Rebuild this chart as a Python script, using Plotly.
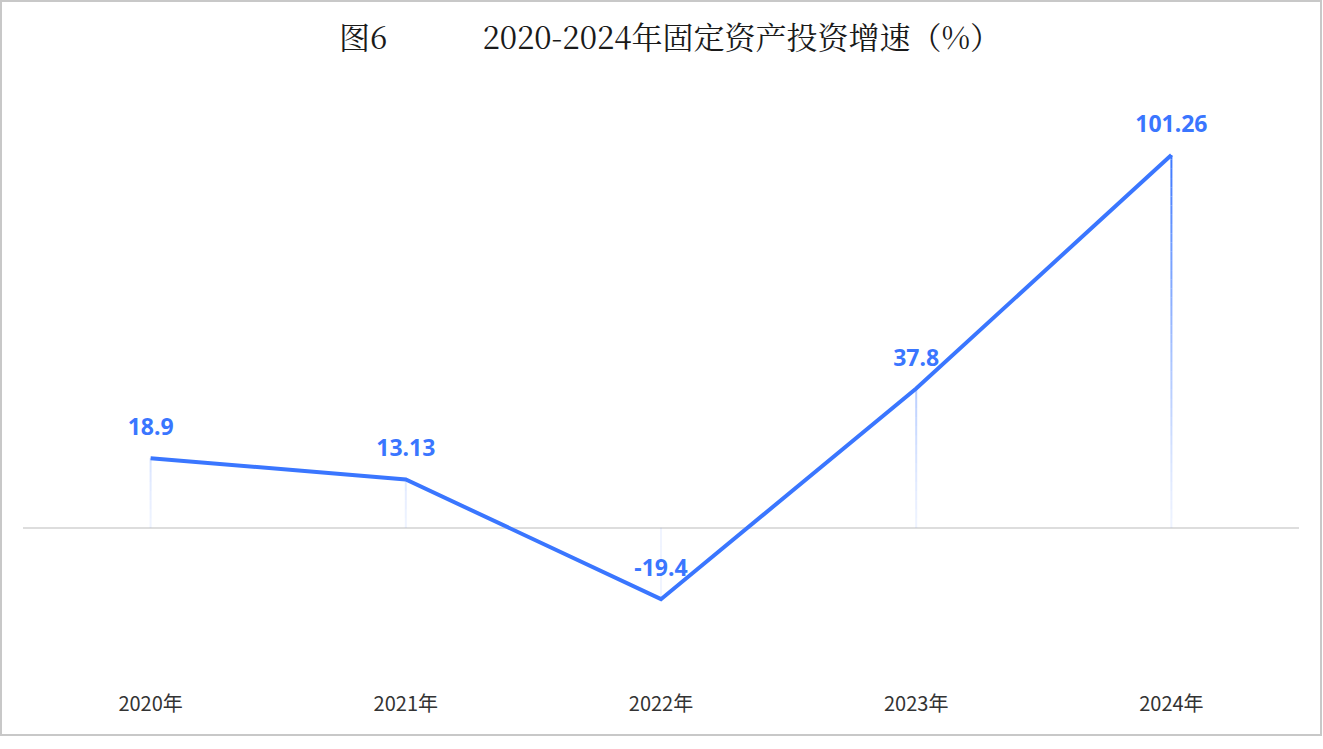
import plotly.graph_objects as go

years = ["2020年", "2021年", "2022年", "2023年", "2024年"]
growth = [18.9, 13.13, -19.4, 37.8, 101.26]
title_text = "图6" + "&nbsp;" * 12 + "2020-2024年固定资产投资增速（%）"

W, H = 1323, 749
ML, MR, MT, MB = 23, 24, 86, 74
PW, PH = W - ML - MR, H - MT - MB
BLUE = "#3a76ff"

fig = go.Figure()

# gradient drop lines (alpha by absolute y)
vmax = max(growth)
step = 2.5
bands = []
lo = -20.0
while lo < 105:
    bands.append((lo, lo + step))
    lo += step
for (a, b) in bands:
    xs, ys = [], []
    for cat, v in zip(years, growth):
        top, bot = (v, 0) if v >= 0 else (0, v)
        s0, s1 = max(a, bot), min(b, top)
        if s1 > s0:
            xs += [cat, cat, None]
            ys += [s0, s1, None]
    if not xs:
        continue
    mid = max((a + b) / 2, 0)
    alpha = 0.08 + 0.92 * (mid / vmax) ** 1.2
    alpha = min(alpha, 1.0)
    fig.add_trace(go.Scatter(x=xs, y=ys, mode="lines", hoverinfo="skip",
                             line=dict(color=f"rgba(58,118,255,{alpha:.3f})", width=2),
                             showlegend=False))

fig.add_trace(go.Scatter(
    x=years, y=growth, mode="lines",
    line=dict(color=BLUE, width=4),
    showlegend=False))

fig.add_trace(go.Scatter(
    x=years, y=growth, mode="markers+text",
    marker=dict(size=26, color="rgba(0,0,0,0)"),
    text=[f"{v:g}" for v in growth], textposition="top center",
    textfont=dict(family="Noto Sans, Open Sans, sans-serif", size=23, color=BLUE, weight="bold"),
    hoverinfo="skip", showlegend=False, cliponaxis=False))

# frame border
fig.add_shape(type="rect", xref="paper", yref="paper",
              x0=(1 - ML) / PW, x1=(1321 - ML) / PW,
              y0=(H - MB - 735) / PH, y1=(H - MB - 1) / PH,
              line=dict(color="#c8c8c8", width=2), layer="below")

fig.update_layout(
    width=W, height=H,
    margin=dict(l=ML, r=MR, t=MT, b=MB),
    paper_bgcolor="white", plot_bgcolor="white",
    title=dict(text=title_text, x=(670 - ML) / PW, xref="paper", xanchor="center", y=1 - 38 / H, yanchor="middle",
               font=dict(family="Noto Serif CJK SC, Noto Sans CJK SC, serif", size=31, color="#1a1a1a")),
    xaxis=dict(type="category", categoryorder="array", categoryarray=years,
               range=[-0.5, 4.5], showgrid=False, showline=False,
               zeroline=False, ticks="", tickfont=dict(family="Noto Sans CJK SC, Noto Sans, sans-serif", size=20, color="#333333"),
               ticklabelstandoff=15),
    yaxis=dict(range=[-40, 120], showgrid=False, showticklabels=False, zeroline=True,
               zerolinecolor="#dddddd", zerolinewidth=2, showline=False),
)

fig.write_html("out.html", config={"displayModeBar": False},
               post_script="document.body.style.margin='0';")
